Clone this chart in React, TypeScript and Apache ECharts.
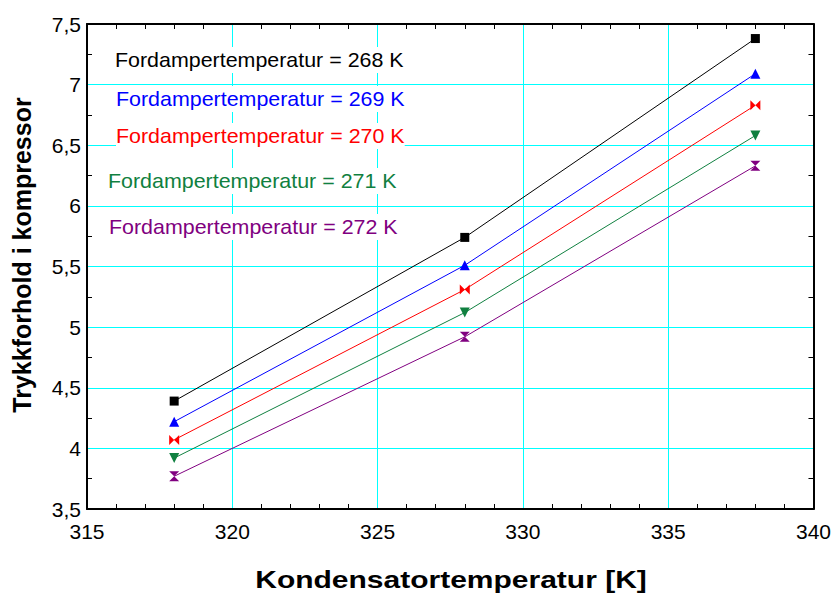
import React, { useEffect, useRef } from "react";
import * as echarts from "echarts";

// Kondensatortemperatur [K]
const condenserTemps = [318, 328, 338];

// Trykkforhold per fordampertemperatur
const ratio268 = [4.39, 5.74, 7.38];
const ratio269 = [4.22, 5.51, 7.09];
const ratio270 = [4.07, 5.31, 6.83];
const ratio271 = [3.92, 5.12, 6.58];
const ratio272 = [3.77, 4.92, 6.33];

const evapLabels = [
  "Fordampertemperatur = 268 K",
  "Fordampertemperatur = 269 K",
  "Fordampertemperatur = 270 K",
  "Fordampertemperatur = 271 K",
  "Fordampertemperatur = 272 K",
];

const FONT = "'Liberation Sans', Arial, Helvetica, sans-serif";

const bowtie = "path://M0,0L5,5L0,10ZM10,0L5,5L10,10Z";
const hourglass = "path://M0,0L10,0L5,5ZM0,10L10,10L5,5Z";
const downTriangle = "path://M0,0L10,0L5,10Z";

const seriesDefs = [
  { data: ratio268, color: "#000000", symbol: "rect", size: 9 },
  { data: ratio269, color: "#0000ff", symbol: "triangle", size: 10 },
  { data: ratio270, color: "#ff0000", symbol: bowtie, size: 10 },
  { data: ratio271, color: "#108040", symbol: downTriangle, size: 10 },
  { data: ratio272, color: "#800080", symbol: hourglass, size: 10 },
];

const labelPos = [
  { x: 115, y: 60 },
  { x: 116, y: 99 },
  { x: 116, y: 136 },
  { x: 108, y: 181 },
  { x: 109, y: 227 },
];

export default function App() {
  const ref = useRef<HTMLDivElement>(null);

  useEffect(() => {
    if (!ref.current) return;
    const chart = echarts.init(ref.current, undefined, { renderer: "svg" });

    const xBase = {
      type: "value" as const,
      min: 315,
      max: 340,
      interval: 5,
      axisLine: { show: true, onZero: false, lineStyle: { color: "#000", width: 2 } },
      axisTick: { show: false, inside: true },
      minorTick: { show: true, splitNumber: 5, length: 5, lineStyle: { color: "#000", width: 1 } },
    };
    const yBase = {
      type: "value" as const,
      min: 3.5,
      max: 7.5,
      interval: 0.5,
      axisLine: { show: true, onZero: false, lineStyle: { color: "#000", width: 2 } },
      axisTick: { show: false, inside: true },
      minorTick: { show: true, splitNumber: 2, length: 5, lineStyle: { color: "#000", width: 1 } },
    };

    chart.setOption({
      animation: false,
      backgroundColor: "#ffffff",
      grid: { left: 87, right: 17, top: 24, bottom: 86, containLabel: false },
      xAxis: [
        {
          ...xBase,
          position: "bottom",
          axisLabel: { color: "#000", fontSize: 21, fontFamily: FONT, margin: 12 },
          splitLine: { show: true, lineStyle: { color: "#00ffff", width: 1 } },
        },
        {
          ...xBase,
          position: "top",
          axisLabel: { show: false },
          splitLine: { show: false },
        },
      ],
      yAxis: [
        {
          ...yBase,
          position: "left",
          axisLabel: {
            color: "#000",
            fontSize: 21,
            fontFamily: FONT,
            margin: 6,
            formatter: (v: number) => String(v).replace(".", ","),
          },
          splitLine: { show: true, lineStyle: { color: "#00ffff", width: 1 } },
        },
        {
          ...yBase,
          position: "right",
          axisLabel: { show: false },
          splitLine: { show: false },
        },
      ],
      series: seriesDefs.map((s) => ({
        type: "line",
        data: condenserTemps.map((t, i) => [t, s.data[i]]),
        symbol: s.symbol,
        symbolSize: s.size,
        showAllSymbol: true,
        lineStyle: { color: s.color, width: 1 },
        itemStyle: { color: s.color },
        emphasis: { disabled: true },
      })),
      graphic: [
        ...evapLabels.map((txt, i) => ({
          type: "text",
          x: labelPos[i].x,
          y: labelPos[i].y,
          scaleX: 1.02,
          z: 100,
          style: {
            text: txt,
            fill: seriesDefs[i].color,
            font: `21px ${FONT}`,
            backgroundColor: "#ffffff",
            lineHeight: 26,
            align: "left",
            verticalAlign: "middle",
          },
        })),
        {
          type: "text",
          x: 22,
          y: 255,
          rotation: Math.PI / 2,
          style: {
            text: "Trykkforhold i kompressor",
            fill: "#000",
            font: `bold 25px ${FONT}`,
            align: "center",
            verticalAlign: "middle",
          },
        },
        {
          type: "text",
          x: 451,
          y: 580,
          scaleX: 1.25,
          style: {
            text: "Kondensatortemperatur [K]",
            fill: "#000",
            font: `bold 24px ${FONT}`,
            align: "center",
            verticalAlign: "middle",
          },
        },
      ],
    });

    return () => chart.dispose();
  }, []);

  return (
    <div
      ref={ref}
      style={{ position: "fixed", left: 0, top: 0, width: 834, height: 595 }}
    />
  );
}
